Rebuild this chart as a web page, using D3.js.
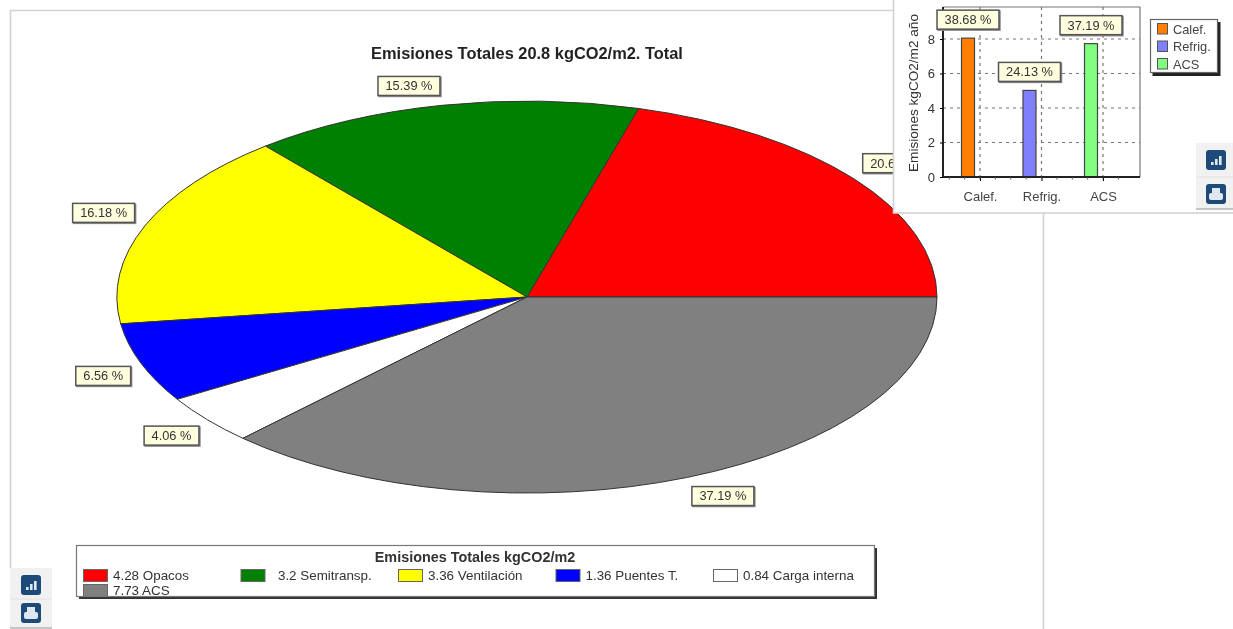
<!DOCTYPE html>
<html>
<head>
<meta charset="utf-8">
<script src="https://cdn.jsdelivr.net/npm/d3@7"></script>
<style>
  html, body { margin: 0; padding: 0; background: #fff; overflow: hidden; }
  svg { display: block; filter: blur(0.7px); font-family: "Liberation Sans", Arial, sans-serif; }
</style>
</head>
<body>
<div id="chart"></div>
<script>
// pie data
var pieNames = ["Opacos", "Semitransp.", "Ventilación", "Puentes T.", "Carga interna", "ACS"]
var pieKg = ["4.28", "3.2", "3.36", "1.36", "0.84", "7.73"]
var piePct = [20.62, 15.39, 16.18, 6.56, 4.06, 37.19]
var pieColors = ["#ff0000", "#008000", "#ffff00", "#0000ff", "#ffffff", "#808080"]

// small bar chart data
var barNames = ["Calef.", "Refrig.", "ACS"]
var barValues = [8.05, 5.02, 7.73]
var barPct = [38.68, 24.13, 37.19]
var barColors = ["#ff8000", "#8080ff", "#80ff80"]
var barTicks = [0, 2, 4, 6, 8]

var svg = d3.select("#chart").append("svg")
  .attr("width", 1233)
  .attr("height", 629)

var frameColor = "#d2d2d2"

// label box with a small shadow, sized on its text
function labelBox(parent, text, place) {
  var g = parent.append("g")
  var rect = g.append("rect")
    .attr("fill", "#ffffe0")
    .attr("stroke", "#555")
    .attr("stroke-width", 1.5)
    .style("filter", "drop-shadow(1px 1px 0 #888)")
  var t = g.append("text")
    .attr("font-size", 12.8)
    .attr("fill", "#333")
    .attr("text-anchor", "middle")
    .text(text)
  var w = t.node().getComputedTextLength() + 15
  var h = 19
  var pos = place(w, h)
  rect.attr("x", pos[0]).attr("y", pos[1]).attr("width", w).attr("height", h)
  t.attr("x", pos[0] + w / 2).attr("y", pos[1] + h / 2 + 4.4)
}

// ---- outer frame
svg.append("path")
  .attr("d", "M10.5,568V10.5H900")
  .attr("fill", "none")
  .attr("stroke", frameColor)
  .attr("stroke-width", 1.6)
svg.append("line")
  .attr("x1", 1043.5).attr("x2", 1043.5)
  .attr("y1", 210).attr("y2", 629)
  .attr("stroke", frameColor)
  .attr("stroke-width", 1.6)

svg.append("text")
  .attr("x", 527)
  .attr("y", 59)
  .attr("text-anchor", "middle")
  .attr("font-size", 16.4)
  .attr("font-weight", "bold")
  .attr("fill", "#222")
  .text("Emisiones Totales 20.8 kgCO2/m2. Total")

// ---- pie, a unit circle squashed to an ellipse
var pieX = 527, pieY = 297, pieRx = 410, pieRy = 196
var labelRx = 421, labelRy = 206

var pie = d3.pie()
  .sort(null)
  .startAngle(Math.PI / 2)
  .endAngle(Math.PI / 2 - 2 * Math.PI)
var arc = d3.arc().innerRadius(0).outerRadius(1)
var slices = pie(piePct)

svg.append("g")
  .attr("transform", "translate(" + pieX + "," + pieY + ") scale(" + pieRx + "," + pieRy + ")")
  .selectAll("path")
  .data(slices)
  .enter()
  .append("path")
  .attr("d", arc)
  .attr("fill", function(d, i) { return pieColors[i] })
  .attr("stroke", "#333")
  .attr("stroke-width", 1)
  .attr("vector-effect", "non-scaling-stroke")

slices.forEach(function(d, i) {
  var mid = (d.startAngle + d.endAngle) / 2
  var ax = pieX + labelRx * Math.sin(mid)
  var ay = pieY - labelRy * Math.cos(mid)
  labelBox(svg, piePct[i].toFixed(2) + " %", function(w, h) {
    return [ax < pieX ? ax - w : ax, ay < pieY ? ay - h : ay]
  })
})

// ---- bottom legend
svg.append("rect")
  .attr("x", 79).attr("y", 548)
  .attr("width", 798).attr("height", 51)
  .attr("fill", "#333")
svg.append("rect")
  .attr("x", 76.5).attr("y", 545.5)
  .attr("width", 798).attr("height", 51)
  .attr("fill", "#fff")
  .attr("stroke", "#777")
  .attr("stroke-width", 1.2)
svg.append("clipPath").attr("id", "legendClip")
  .append("rect")
  .attr("x", 76).attr("y", 545)
  .attr("width", 798).attr("height", 51)

svg.append("text")
  .attr("x", 475)
  .attr("y", 561.5)
  .attr("text-anchor", "middle")
  .attr("font-size", 14.4)
  .attr("font-weight", "bold")
  .attr("fill", "#333")
  .text("Emisiones Totales kgCO2/m2")

var legend = svg.append("g").attr("clip-path", "url(#legendClip)")
var legendX = d3.scalePoint().domain(d3.range(5)).range([83, 713])

pieNames.forEach(function(name, i) {
  var x = legendX(i % 5)
  var y = i < 5 ? 569 : 584
  legend.append("rect")
    .attr("x", x + 0.5).attr("y", y + 0.5)
    .attr("width", 24).attr("height", 12)
    .attr("fill", pieColors[i])
    .attr("stroke", "#666")
  // the original pads the short number with spaces
  var txt = (pieKg[i].length < 4 ? "\u00a0\u00a0" : "") + pieKg[i] + " " + name
  legend.append("text")
    .attr("x", x + 30)
    .attr("y", y + 11)
    .attr("font-size", 13.4)
    .attr("fill", "#333")
    .text(txt)
})

// ---- inset panel over the pie
svg.append("rect")
  .attr("x", 893.5).attr("y", -5)
  .attr("width", 345).attr("height", 218)
  .attr("fill", "#fff")
  .attr("stroke", frameColor)
  .attr("stroke-width", 1.6)

var plot = { left: 943, right: 1140, top: 7, bottom: 177 }

var y = d3.scaleLinear().domain([0, 8]).range([plot.bottom, 39])
var x = d3.scalePoint().domain(barNames).range([980, 1103])

// dashed grid
svg.append("g").selectAll("line")
  .data(barTicks.slice(1))
  .enter()
  .append("line")
  .attr("x1", plot.left).attr("x2", plot.right)
  .attr("y1", function(d) { return y(d) }).attr("y2", function(d) { return y(d) })
  .attr("stroke", "#777")
  .attr("stroke-width", 1.2)
  .attr("stroke-dasharray", "3,4")
svg.append("g").selectAll("line")
  .data(barNames)
  .enter()
  .append("line")
  .attr("x1", function(d) { return x(d) }).attr("x2", function(d) { return x(d) })
  .attr("y1", plot.top).attr("y2", plot.bottom)
  .attr("stroke", "#777")
  .attr("stroke-width", 1.2)
  .attr("stroke-dasharray", "3,4")

// plot frame: thin top and right, heavy left and bottom
svg.append("path")
  .attr("d", "M" + plot.left + "," + plot.top + "H" + plot.right + "V" + plot.bottom)
  .attr("fill", "none")
  .attr("stroke", "#777")
  .attr("stroke-width", 1.2)

var barW = 13
svg.append("g").selectAll("rect")
  .data(barValues)
  .enter()
  .append("rect")
  .attr("x", function(d, i) { return x(barNames[i]) - 12 - barW / 2 })
  .attr("y", function(d) { return y(d) })
  .attr("width", barW)
  .attr("height", function(d) { return y(0) - y(d) })
  .attr("fill", function(d, i) { return barColors[i] })
  .attr("stroke", "#444")
  .attr("stroke-width", 1.2)

var axisY = svg.append("g")
  .attr("transform", "translate(" + plot.left + ",0)")
  .call(d3.axisLeft(y).tickValues(barTicks).tickSize(3).tickFormat(d3.format("d")))
axisY.select(".domain").attr("d", "M0," + plot.top + "V" + plot.bottom)
  .attr("stroke", "#222").attr("stroke-width", 2)
axisY.selectAll("text").attr("font-size", 13).attr("fill", "#333")
  .attr("font-family", "Liberation Sans").attr("x", -8)

var axisX = svg.append("g")
  .attr("transform", "translate(0," + plot.bottom + ")")
  .call(d3.axisBottom(x).tickSize(4))
axisX.select(".domain").attr("d", "M" + plot.left + ",0H" + plot.right)
  .attr("stroke", "#222").attr("stroke-width", 2)
axisX.selectAll("text").attr("font-size", 13).attr("fill", "#444")
  .attr("font-family", "Liberation Sans").attr("y", 15)

// minor ticks between the categories
var minorStep = (x(barNames[1]) - x(barNames[0])) / 4
axisX.selectAll(".minor")
  .data(d3.range(-2, 10))
  .enter()
  .append("line")
  .attr("x1", function(d) { return x(barNames[0]) + d * minorStep })
  .attr("x2", function(d) { return x(barNames[0]) + d * minorStep })
  .attr("y2", 2.5)
  .attr("stroke", "#555")

svg.append("text")
  .attr("transform", "translate(918,93) rotate(-90)")
  .attr("text-anchor", "middle")
  .attr("font-size", 13.6)
  .attr("fill", "#333")
  .text("Emisiones kgCO2/m2 año")

barValues.forEach(function(v, i) {
  labelBox(svg, barPct[i].toFixed(2) + " %", function(w, h) {
    return [x(barNames[i]) - 12 - w / 2, y(v) - 9 - h]
  })
})

// ---- inset legend
svg.append("rect")
  .attr("x", 1152.5).attr("y", 22)
  .attr("width", 68).attr("height", 54)
  .attr("fill", "#222")
svg.append("rect")
  .attr("x", 1150.5).attr("y", 19.5)
  .attr("width", 67).attr("height", 53)
  .attr("fill", "#fff")
  .attr("stroke", "#666")
  .attr("stroke-width", 1.2)
barNames.forEach(function(name, i) {
  var row = 23.5 + i * 17.5
  svg.append("rect")
    .attr("x", 1157.5).attr("y", row)
    .attr("width", 10).attr("height", 10.5)
    .attr("fill", barColors[i])
    .attr("stroke", "#555")
  svg.append("text")
    .attr("x", 1173)
    .attr("y", row + 10)
    .attr("font-size", 12.8)
    .attr("fill", "#444")
    .text(name)
})

// ---- the two toolbar buttons, seen twice
function toolbar(left, top, width, cx, y1, y2) {
  svg.append("rect")
    .attr("x", left).attr("y", top)
    .attr("width", width).attr("height", y2 - top + 15)
    .attr("fill", "#f1f1f1")
  svg.append("line")
    .attr("x1", left).attr("x2", left + width)
    .attr("y1", y2 + 15).attr("y2", y2 + 15)
    .attr("stroke", "#b5b5b5").attr("stroke-width", 1.5)
  svg.append("line")
    .attr("x1", left).attr("x2", left + width)
    .attr("y1", (y1 + y2) / 2).attr("y2", (y1 + y2) / 2)
    .attr("stroke", "#e2e2e2")
  var navy = "#1d4a78"
  // chart button
  svg.append("rect")
    .attr("x", cx - 10).attr("y", y1 - 10)
    .attr("width", 20).attr("height", 20)
    .attr("rx", 3)
    .attr("fill", navy)
  ;[[-5, 3], [-1, 6], [3, 9]].forEach(function(b) {
    svg.append("rect")
      .attr("x", cx + b[0]).attr("y", y1 + 5 - b[1])
      .attr("width", 2.6).attr("height", b[1])
      .attr("fill", "#dfe8f0")
  })
  // print button
  svg.append("rect")
    .attr("x", cx - 10).attr("y", y2 - 10)
    .attr("width", 20).attr("height", 20)
    .attr("rx", 3)
    .attr("fill", navy)
  svg.append("rect")
    .attr("x", cx - 7).attr("y", y2 - 1)
    .attr("width", 14).attr("height", 7)
    .attr("rx", 2)
    .attr("fill", "#dfe8f0")
  svg.append("rect")
    .attr("x", cx - 4).attr("y", y2 - 6)
    .attr("width", 8).attr("height", 6)
    .attr("fill", "#dfe8f0")
}

toolbar(1196, 143, 37, 1216, 160, 194)
toolbar(10, 568, 42, 31, 585, 613)
</script>
</body>
</html>
